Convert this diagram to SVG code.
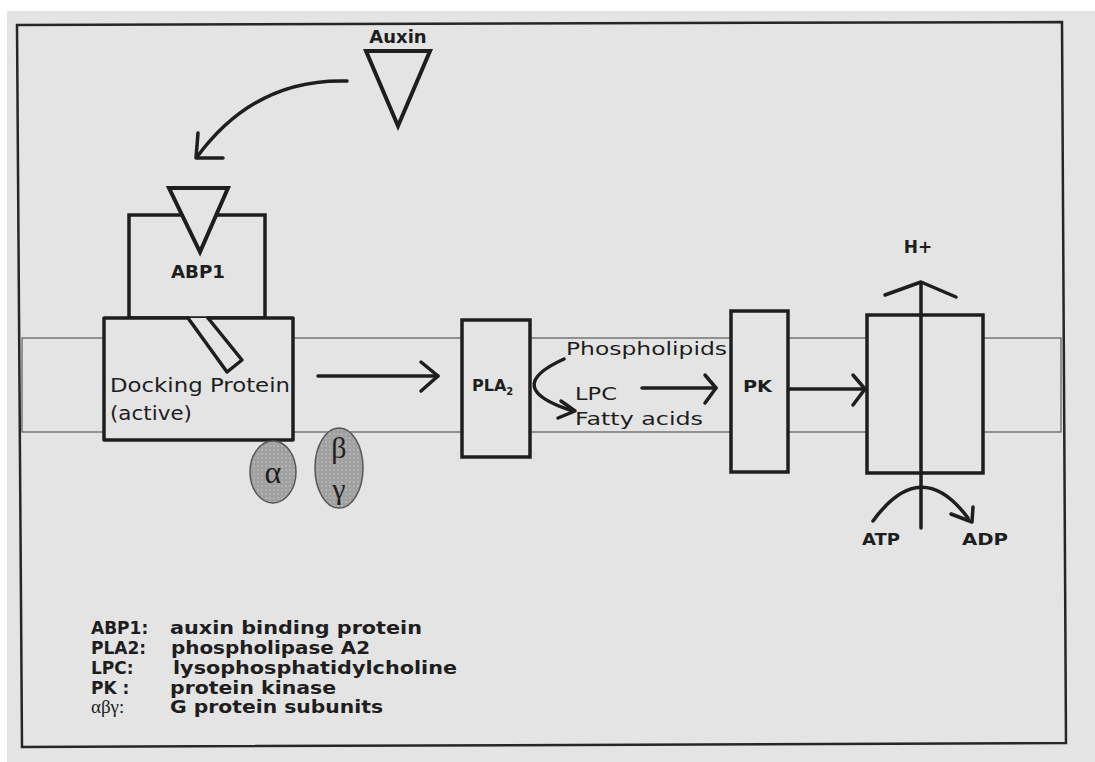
<svg xmlns="http://www.w3.org/2000/svg" width="1095" height="762" viewBox="0 0 1095 762">
<defs>
<style>
.t{font-family:"DejaVu Sans","Liberation Sans",sans-serif;fill:#1e1e1e;}
.b{font-weight:bold;}
.g{font-family:"Liberation Serif","DejaVu Serif",serif;fill:#1e1e1e;}
.box{fill:#e4e4e4;stroke:#1e1e1e;stroke-width:3.5;}
.ln{fill:none;stroke:#1e1e1e;stroke-width:3.5;stroke-linecap:round;stroke-linejoin:round;}
.mem{fill:none;stroke:#5a5a5a;stroke-width:1.2;}
</style>
<pattern id="dots" width="4" height="4" patternUnits="userSpaceOnUse">
<rect width="4" height="4" fill="#a0a0a0"/>
<circle cx="2" cy="2" r="0.8" fill="#cacaca"/>
</pattern>
</defs>
<rect x="0" y="0" width="1095" height="762" fill="#ffffff"/>
<rect x="7" y="11" width="1088" height="751" fill="#e4e4e4"/>
<polygon points="17,25 1062,22 1066,743 22,747" fill="none" stroke="#262626" stroke-width="2.5"/>
<g id="membrane">
<rect x="22" y="338" width="1039" height="94" class="mem"/>
</g>
<g id="auxin">
<text x="398" y="43" class="t b" font-size="18" text-anchor="middle">Auxin</text>
<polygon points="366,51 430,51 398,126" fill="none" stroke="#1e1e1e" stroke-width="4" stroke-linejoin="miter"/>
</g>
<g id="abp1">
<rect x="129" y="215" width="136" height="103" class="box"/>
<polygon points="169,188 228,188 200,252" fill="#e4e4e4" stroke="#1e1e1e" stroke-width="4"/>
<text x="171" y="278" class="t b" font-size="17" textLength="54" lengthAdjust="spacingAndGlyphs">ABP1</text>
</g>
<g id="docking">
<rect x="104" y="318" width="189" height="122" fill="#e4e4e4" stroke="none"/>
<path d="M188,318 L104,318 L104,440 L293,440 L293,318 L208,318" class="ln" stroke-linecap="square"/>
<path d="M188,318 L227,372 L242,360 L208,318" class="ln"/>
<text x="110" y="392" class="t" font-size="19" textLength="180" lengthAdjust="spacingAndGlyphs">Docking Protein</text>
<text x="110" y="420" class="t" font-size="19" textLength="82" lengthAdjust="spacingAndGlyphs">(active)</text>
</g>
<g id="galpha">
<ellipse cx="273" cy="472" rx="23" ry="31" fill="url(#dots)" stroke="#555" stroke-width="1.5"/>
<text x="273" y="483" class="g" font-size="32" text-anchor="middle">α</text>
</g>
<g id="gbetagamma">
<ellipse cx="339" cy="468" rx="24" ry="40" fill="url(#dots)" stroke="#555" stroke-width="1.5"/>
<text x="339" y="458" class="g" font-size="30" text-anchor="middle">β</text>
<text x="339" y="499" class="g" font-size="30" text-anchor="middle">γ</text>
</g>
<g id="pla2">
<rect x="462" y="320" width="68" height="137" class="box"/>
<text x="472" y="391" class="t b" font-size="16">PLA<tspan font-size="10" dy="4">2</tspan></text>
</g>
<g id="products">
<text x="566" y="355" class="t" font-size="18" textLength="161" lengthAdjust="spacingAndGlyphs">Phospholipids</text>
<text x="575" y="400" class="t" font-size="18" textLength="42" lengthAdjust="spacingAndGlyphs">LPC</text>
<text x="575" y="425" class="t" font-size="18" textLength="128" lengthAdjust="spacingAndGlyphs">Fatty acids</text>
</g>
<g id="pk">
<rect x="731" y="311" width="57" height="161" class="box"/>
<text x="743" y="392" class="t b" font-size="16" textLength="29" lengthAdjust="spacingAndGlyphs">PK</text>
</g>
<g id="pump">
<rect x="867" y="315" width="116" height="158" class="box"/>
<text x="918" y="253" class="t b" font-size="17" text-anchor="middle">H+</text>
<text x="862" y="545" class="t b" font-size="16" textLength="38" lengthAdjust="spacingAndGlyphs">ATP</text>
<text x="962" y="545" class="t b" font-size="16" textLength="46" lengthAdjust="spacingAndGlyphs">ADP</text>
</g>
<g id="connectors">
<path d="M347,81 Q255,78 197,157" class="ln"/>
<path d="M198,133 L196,158 L223,158" class="ln"/>
<path d="M318,376 L438,376" class="ln"/>
<path d="M421,362 L438,376 L421,391" class="ln"/>
<path d="M564,359 Q500,388 573,411" class="ln"/>
<path d="M561,401 L575,411 L558,418" class="ln"/>
<path d="M642,388 L716,388" class="ln"/>
<path d="M705,375 L716,388 L705,403" class="ln"/>
<path d="M790,389 L865,389" class="ln"/>
<path d="M853,375 L865,389 L853,405" class="ln"/>
<path d="M921,284 L921,528" class="ln" stroke-width="4"/>
<path d="M885,295 L921,282 L956,297" class="ln"/>
<path d="M873,521 Q921,455 968,518" class="ln"/>
<path d="M951,514 L972,522 L973,507" class="ln"/>
</g>
<g id="legend">
<text x="91" y="634" class="t b" font-size="17">ABP1:</text>
<text x="91" y="654" class="t b" font-size="17">PLA2:</text>
<text x="91" y="674" class="t b" font-size="17">LPC:</text>
<text x="91" y="694" class="t b" font-size="17">PK :</text>
<text x="91" y="713" class="g" font-size="19">αβγ:</text>
<text x="170" y="634" class="t b" font-size="17" textLength="252" lengthAdjust="spacingAndGlyphs">auxin binding protein</text>
<text x="171" y="654" class="t b" font-size="17" textLength="199" lengthAdjust="spacingAndGlyphs">phospholipase A2</text>
<text x="173" y="674" class="t b" font-size="17" textLength="284" lengthAdjust="spacingAndGlyphs">lysophosphatidylcholine</text>
<text x="170" y="694" class="t b" font-size="17" textLength="166" lengthAdjust="spacingAndGlyphs">protein kinase</text>
<text x="170" y="713" class="t b" font-size="17" textLength="213" lengthAdjust="spacingAndGlyphs">G protein subunits</text>
</g>
</svg>
